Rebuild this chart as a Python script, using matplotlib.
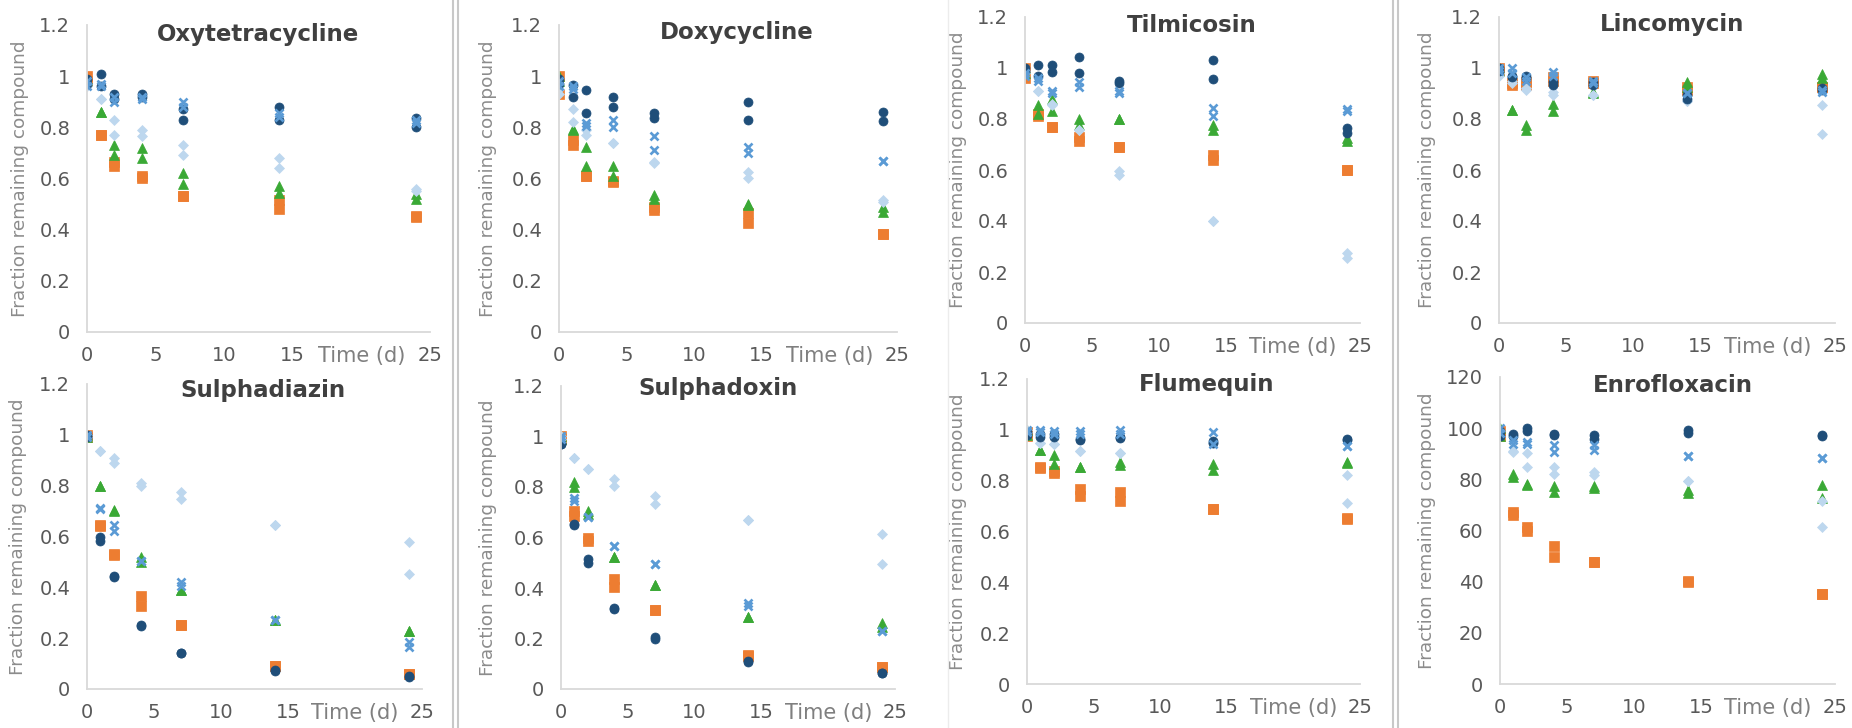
import matplotlib
matplotlib.use("Agg")
import matplotlib.pyplot as plt
import numpy as np

days = [0, 1, 2, 4, 7, 14, 24]

# two replicate values per sampling day, per series
oxytetracycline = {
    'orange': [(1.0, 0.98), (0.77, 0.77), (0.665, 0.65), (0.61, 0.60), (0.53, 0.53), (0.515, 0.48), (0.455, 0.45)],
    'green': [(0.99, 0.98), (0.86, 0.86), (0.73, 0.69), (0.72, 0.68), (0.62, 0.58), (0.57, 0.545), (0.54, 0.52)],
    'light': [(0.97, 0.96), (0.91, 0.91), (0.83, 0.77), (0.79, 0.765), (0.73, 0.69), (0.68, 0.64), (0.56, 0.55)],
    'navy': [(0.99, 0.97), (1.01, 0.96), (0.93, 0.91), (0.93, 0.92), (0.87, 0.83), (0.88, 0.83), (0.835, 0.80)],
    'xblue': [(0.98, 0.96), (0.97, 0.96), (0.92, 0.90), (0.92, 0.91), (0.90, 0.88), (0.855, 0.84), (0.83, 0.815)],
}
doxycycline = {
    'orange': [(1.0, 0.93), (0.75, 0.73), (0.61, 0.61), (0.59, 0.585), (0.49, 0.475), (0.465, 0.425), (0.385, 0.385)],
    'green': [(1.0, 0.98), (0.795, 0.79), (0.725, 0.65), (0.65, 0.61), (0.535, 0.52), (0.50, 0.495), (0.49, 0.47)],
    'light': [(0.95, 0.93), (0.87, 0.82), (0.79, 0.77), (0.74, 0.74), (0.665, 0.66), (0.625, 0.60), (0.515, 0.51)],
    'navy': [(0.99, 0.97), (0.965, 0.92), (0.945, 0.855), (0.92, 0.88), (0.855, 0.835), (0.90, 0.83), (0.86, 0.825)],
    'xblue': [(0.98, 0.96), (0.96, 0.95), (0.815, 0.805), (0.83, 0.80), (0.765, 0.71), (0.725, 0.70), (0.67, 0.67)],
}
tilmicosin = {
    'orange': [(1.0, 0.96), (0.82, 0.81), (0.77, 0.77), (0.73, 0.715), (0.69, 0.69), (0.66, 0.64), (0.60, 0.60)],
    'green': [(1.0, 0.98), (0.855, 0.82), (0.88, 0.83), (0.80, 0.775), (0.80, 0.80), (0.775, 0.755), (0.725, 0.715)],
    'light': [(0.99, 0.98), (0.91, 0.91), (0.86, 0.855), (0.755, 0.755), (0.595, 0.58), (0.40, 0.40), (0.275, 0.255)],
    'navy': [(1.0, 0.99), (1.01, 0.97), (1.013, 0.985), (1.045, 0.98), (0.95, 0.94), (1.03, 0.955), (0.765, 0.745)],
    'xblue': [(0.98, 0.97), (0.96, 0.95), (0.91, 0.90), (0.945, 0.925), (0.91, 0.90), (0.845, 0.81), (0.84, 0.83)],
}
lincomycin = {
    'orange': [(1.0, 0.99), (0.94, 0.935), (0.945, 0.935), (0.965, 0.95), (0.95, 0.94), (0.925, 0.915), (0.925, 0.925)],
    'green': [(1.0, 0.99), (0.835, 0.835), (0.775, 0.755), (0.86, 0.83), (0.905, 0.90), (0.945, 0.925), (0.975, 0.96)],
    'light': [(0.98, 0.97), (0.95, 0.94), (0.92, 0.915), (0.905, 0.895), (0.895, 0.895), (0.87, 0.87), (0.855, 0.74)],
    'navy': [(1.0, 0.99), (0.97, 0.965), (0.97, 0.96), (0.945, 0.935), (0.945, 0.935), (0.895, 0.88), (0.92, 0.915)],
    'xblue': [(1.0, 0.99), (1.0, 0.98), (0.965, 0.95), (0.985, 0.97), (0.95, 0.94), (0.90, 0.90), (0.915, 0.905)],
}
sulphadiazin = {
    'orange': [(1.0, 0.99), (0.645, 0.64), (0.53, 0.528), (0.367, 0.328), (0.25, 0.25), (0.092, 0.09), (0.06, 0.06)],
    'green': [(1.0, 0.99), (0.80, 0.80), (0.705, 0.70), (0.518, 0.50), (0.39, 0.39), (0.27, 0.27), (0.23, 0.23)],
    'light': [(1.0, 0.99), (0.935, 0.935), (0.91, 0.89), (0.81, 0.80), (0.774, 0.748), (0.647, 0.647), (0.577, 0.452)],
    'navy': [(1.0, 0.99), (0.597, 0.584), (0.446, 0.44), (0.25, 0.247), (0.14, 0.14), (0.075, 0.072), (0.05, 0.046)],
    'xblue': [(1.0, 0.99), (0.712, 0.71), (0.645, 0.623), (0.505, 0.505), (0.42, 0.407), (0.27, 0.27), (0.184, 0.164)],
}
sulphadoxin = {
    'orange': [(1.0, 0.99), (0.705, 0.686), (0.60, 0.587), (0.435, 0.402), (0.314, 0.314), (0.135, 0.13), (0.088, 0.088)],
    'green': [(1.0, 0.99), (0.818, 0.80), (0.705, 0.692), (0.521, 0.521), (0.413, 0.413), (0.287, 0.287), (0.26, 0.247)],
    'light': [(1.0, 0.99), (0.913, 0.913), (0.87, 0.87), (0.833, 0.804), (0.765, 0.732), (0.669, 0.669), (0.613, 0.495)],
    'navy': [(0.97, 0.97), (0.655, 0.65), (0.514, 0.50), (0.32, 0.316), (0.205, 0.20), (0.11, 0.108), (0.065, 0.062)],
    'xblue': [(1.0, 0.99), (0.758, 0.745), (0.68, 0.68), (0.567, 0.567), (0.495, 0.495), (0.339, 0.33), (0.23, 0.23)],
}
flumequin = {
    'orange': [(0.99, 0.975), (0.852, 0.85), (0.84, 0.83), (0.767, 0.74), (0.754, 0.72), (0.689, 0.689), (0.652, 0.65)],
    'green': [(1.0, 0.98), (0.92, 0.92), (0.902, 0.866), (0.852, 0.852), (0.872, 0.863), (0.866, 0.842), (0.872, 0.87)],
    'light': [(1.0, 0.99), (0.95, 0.95), (0.944, 0.944), (0.918, 0.918), (0.907, 0.907), (0.95, 0.95), (0.822, 0.712)],
    'navy': [(0.99, 0.98), (0.984, 0.97), (0.984, 0.973), (0.964, 0.96), (0.973, 0.968), (0.957, 0.95), (0.964, 0.96)],
    'xblue': [(1.0, 0.99), (1.0, 0.99), (0.997, 0.984), (0.997, 0.984), (1.0, 0.984), (0.99, 0.944), (0.937, 0.937)],
}
enrofloxacin = {
    'orange': [(99, 97), (67.2, 65.9), (61.3, 60.0), (54.1, 49.6), (47.6, 47.6), (40.2, 39.8), (35.2, 35.2)],
    'green': [(100, 97), (82.2, 81.1), (78.3, 77.6), (77.2, 75.0), (77.2, 76.7), (76.0, 74.6), (77.6, 72.8)],
    'light': [(99, 97), (91.0, 90.6), (90.3, 85.0), (84.8, 82.2), (82.8, 81.5), (79.3, 79.3), (71.7, 61.3)],
    'navy': [(99, 97), (97.8, 97.0), (100, 98.7), (97.8, 97.2), (97.4, 95.9), (99.1, 98.1), (97.2, 97.0)],
    'xblue': [(100, 98), (95.2, 93.9), (94.6, 93.9), (93.3, 90.6), (93.3, 91.3), (89.0, 89.0), (88.3, 88.3)],
}

compounds = ['Oxytetracycline', 'Doxycycline', 'Tilmicosin', 'Lincomycin',
             'Sulphadiazin', 'Sulphadoxin', 'Flumequin', 'Enrofloxacin']
datasets = [oxytetracycline, doxycycline, tilmicosin, lincomycin,
            sulphadiazin, sulphadoxin, flumequin, enrofloxacin]

styles = {
    'orange': dict(marker='s', color='#ed7d31', ms=6.5),
    'green': dict(marker='^', color='#3aa935', ms=6.5),
    'light': dict(marker='D', color='#bdd7ee', ms=5),
    'navy': dict(marker='o', color='#1f4e79', ms=6.5),
    'xblue': dict(marker='x', color='#5b9bd5', ms=5.5, mew=1.9),
}

W, H = 1852, 728
# axes boxes in pixels: left, right, top (ymax), bottom (0)
boxes = [(87, 430, 25, 332), (559, 897, 25, 332), (1025, 1360, 17, 323), (1499, 1835, 17, 323),
         (87, 422, 384, 689), (561, 895, 386, 689), (1027, 1360, 379, 684), (1500, 1835, 377, 684)]
title_pos = [(258, 35), (737, 33), (1192, 25), (1672, 25),
             (263, 391), (718, 389), (1207, 384), (1673, 386)]
ylabel_x = [20, 488, 958, 1427, 18, 488, 958, 1427]

fig = plt.figure(figsize=(W / 100, H / 100), dpi=100)

for i, (name, data) in enumerate(zip(compounds, datasets)):
    l, r, t, b = boxes[i]
    ax = fig.add_axes([l / W, 1 - b / H, (r - l) / W, (b - t) / H])
    for key in ['orange', 'green', 'light', 'navy', 'xblue']:
        vals = np.array(data[key])
        xs = np.repeat(days, 2)
        ys = vals.flatten()
        st = styles[key]
        ax.plot(xs, ys, linestyle='none', marker=st['marker'], color=st['color'],
                ms=st['ms'], mew=st.get('mew', 0.5), mec=st['color'])
    ax.set_xlim(0, 25)
    ax.set_xticks([0, 5, 10, 15, 20, 25])
    ax.set_xticklabels(['0', '5', '10', '15', 'Time (d)', '25'])
    if name == 'Enrofloxacin':
        ax.set_ylim(0, 120)
        ax.set_yticks(range(0, 121, 20))
        ax.set_yticklabels([str(v) for v in range(0, 121, 20)])
    else:
        ax.set_ylim(0, 1.2)
        ax.set_yticks([0, 0.2, 0.4, 0.6, 0.8, 1.0, 1.2])
        ax.set_yticklabels(['0', '0.2', '0.4', '0.6', '0.8', '1', '1.2'])
    for s in ['top', 'right']:
        ax.spines[s].set_visible(False)
    for s in ['left', 'bottom']:
        ax.spines[s].set_color('#d9d9d9')
        ax.spines[s].set_linewidth(1.3)
    ax.tick_params(length=0, labelsize=14, colors='#595959')
    ax.tick_params(axis='y', pad=12)
    ax.tick_params(axis='x', pad=10)
    tl = ax.get_xticklabels()[4]
    tl.set_color('#7f7f7f')
    tl.set_fontsize(15)
    ax.set_ylabel('Fraction remaining compound', fontsize=13.3, color='#8c8c8c', va='center')
    ax.yaxis.set_label_coords((ylabel_x[i] - l) / (r - l), 0.5)
    ax.patch.set_alpha(0)
    tx, ty = title_pos[i]
    fig.text(tx / W, 1 - ty / H, name, ha='center', va='center', fontsize=16.5,
             fontweight='bold', color='#404040')

# panel separators
for x in [453, 458, 1393, 1398]:
    fig.add_artist(plt.Line2D([x / W, x / W], [0, 1], color='#c8c8c8', lw=1.5))
fig.add_artist(plt.Line2D([948 / W, 948 / W], [0, 1], color='#ececec', lw=1))

fig.savefig('out.png', dpi=100)
